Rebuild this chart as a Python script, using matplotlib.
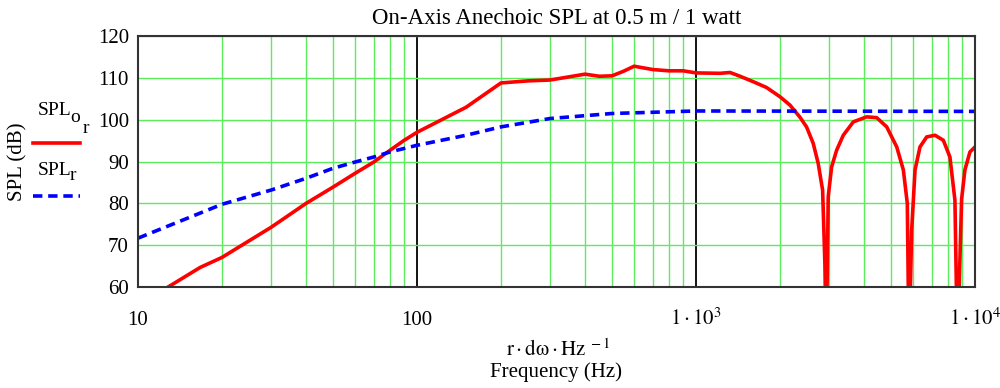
import numpy as np
import matplotlib
matplotlib.use("Agg")
import matplotlib.pyplot as plt
from matplotlib.lines import Line2D
from matplotlib.ticker import FixedLocator, NullFormatter

plt.rcParams['font.family'] = ['Liberation Serif', 'DejaVu Serif']
plt.rcParams['mathtext.fontset'] = 'stix'

# on-axis response of the driver (red)
freq_or = [10, 12.8, 16.7, 20, 30, 40, 50, 60, 70, 80, 90, 100, 150, 200, 250,
           300, 400, 450, 500, 550, 600, 700, 800, 900, 1000, 1219, 1324, 1438,
           1604, 1791, 2000, 2172, 2359, 2490, 2630, 2741, 2843, 2897, 2930,
           2978, 3062, 3191, 3372, 3664, 4090, 4443, 4826, 5242, 5536, 5720,
           5800, 5930, 6096, 6350, 6712, 7190, 7700, 8130, 8473, 8650, 8953,
           9200, 9590, 10000]
spl_or = [56, 60, 64.7, 67.1, 74.3, 80.0, 83.9, 87.2, 89.9, 92.7, 95.1, 97.0,
          103.0, 108.8, 109.3, 109.5, 110.9, 110.4, 110.5, 111.6, 112.8, 112.0,
          111.7, 111.7, 111.2, 111.1, 111.3, 110.4, 109.1, 107.7, 105.5, 103.5,
          100.6, 98.3, 94.4, 89.6, 83.2, 65.7, 45, 81.6, 88.7, 92.7, 96.3, 99.5,
          100.7, 100.5, 98.3, 93.5, 88.0, 80.0, 45, 73.6, 88.0, 93.5, 95.9,
          96.3, 95.1, 91.1, 80.8, 45, 81.0, 88.0, 92.3, 93.5]

# baffle / radiation response (blue dashed)
freq_r = [10, 20, 30, 40, 50, 60, 70, 80, 100, 150, 200, 300, 500, 1000, 10000]
spl_r = [71.7, 79.8, 83.2, 86.0, 88.4, 89.9, 91.1, 92.3, 93.9, 96.3, 98.3,
         100.3, 101.5, 102.1, 102.0]

xticks = [10, 100, 1000, 10000]
xtick_labels = ['10', '100', r'$1\cdot10^{3}$', r'$1\cdot10^{4}$']
yticks = [60, 70, 80, 90, 100, 110, 120]

green = '#5ced5c'
W, H = 1000.0, 388.0   # figure size in pixels, used for placing loose text

fig = plt.figure(figsize=(10, 3.88), dpi=100)
ax = fig.add_axes([0.138, 0.260, 0.837, 0.647])

ax.set_xscale('log')
ax.set_xlim(10, 10000)
ax.set_ylim(60, 120)

# grid: green minor decades, black majors
ax.xaxis.set_major_locator(FixedLocator(xticks))
ax.xaxis.set_minor_locator(FixedLocator(
    [m * d for d in (10, 100, 1000) for m in range(2, 10)]))
ax.xaxis.set_minor_formatter(NullFormatter())
ax.set_xticks(xticks)
ax.set_xticklabels(xtick_labels)
ax.set_yticks(yticks)
ax.grid(True, which='minor', axis='x', color=green, lw=1.0)
ax.grid(True, which='major', axis='x', color='black', lw=1.3)
ax.grid(True, which='major', axis='y', color=green, lw=1.0)
ax.set_axisbelow(True)

ax.plot(freq_or, spl_or, color='red', lw=2.6)
ax.plot(freq_r, spl_r, color='blue', lw=2.6, linestyle=(0, (2.6, 1.6)))

ax.tick_params(which='both', length=0, labelsize=15)
ax.tick_params(axis='x', pad=27)
ax.tick_params(axis='y', pad=6.5)
for lab in ax.get_xticklabels():
    lab.set_va('baseline')
for s in ax.spines.values():
    s.set_color('#333333')
    s.set_linewidth(1.5)

ax.set_title('On-Axis Anechoic SPL at 0.5 m / 1 watt', fontsize=16.5, pad=8.5)

fig.text(558 / W, 1 - 356 / H, r'$\mathrm{r\cdot d\omega\cdot Hz}^{\ -1}$',
         ha='center', va='baseline', fontsize=15)
fig.text(556 / W, 1 - 377 / H, 'Frequency (Hz)', ha='center', va='baseline',
         fontsize=15)

# left-hand legend and axis label
fig.text(18 / W, 1 - 162 / H, 'SPL (dB)', rotation=90, ha='center',
         va='center', fontsize=15)
fig.text(38 / W, 1 - 115 / H, 'SPL', ha='left', va='baseline', fontsize=14)
fig.text(70 / W, 1 - 122 / H, 'o', ha='left', va='baseline', fontsize=14)
fig.text(83 / W, 1 - 133 / H, 'r', ha='left', va='baseline', fontsize=14)
fig.add_artist(Line2D([33 / W, 80 / W], [1 - 143 / H, 1 - 143 / H],
                      color='red', lw=2.6))
fig.text(38 / W, 1 - 175 / H, 'SPL', ha='left', va='baseline', fontsize=14)
fig.text(70 / W, 1 - 180 / H, 'r', ha='left', va='baseline', fontsize=14)
fig.add_artist(Line2D([33 / W, 80 / W], [1 - 196 / H, 1 - 196 / H],
                      color='blue', lw=2.6, linestyle=(0, (2.6, 1.6))))

fig.savefig('out.png', dpi=100)
